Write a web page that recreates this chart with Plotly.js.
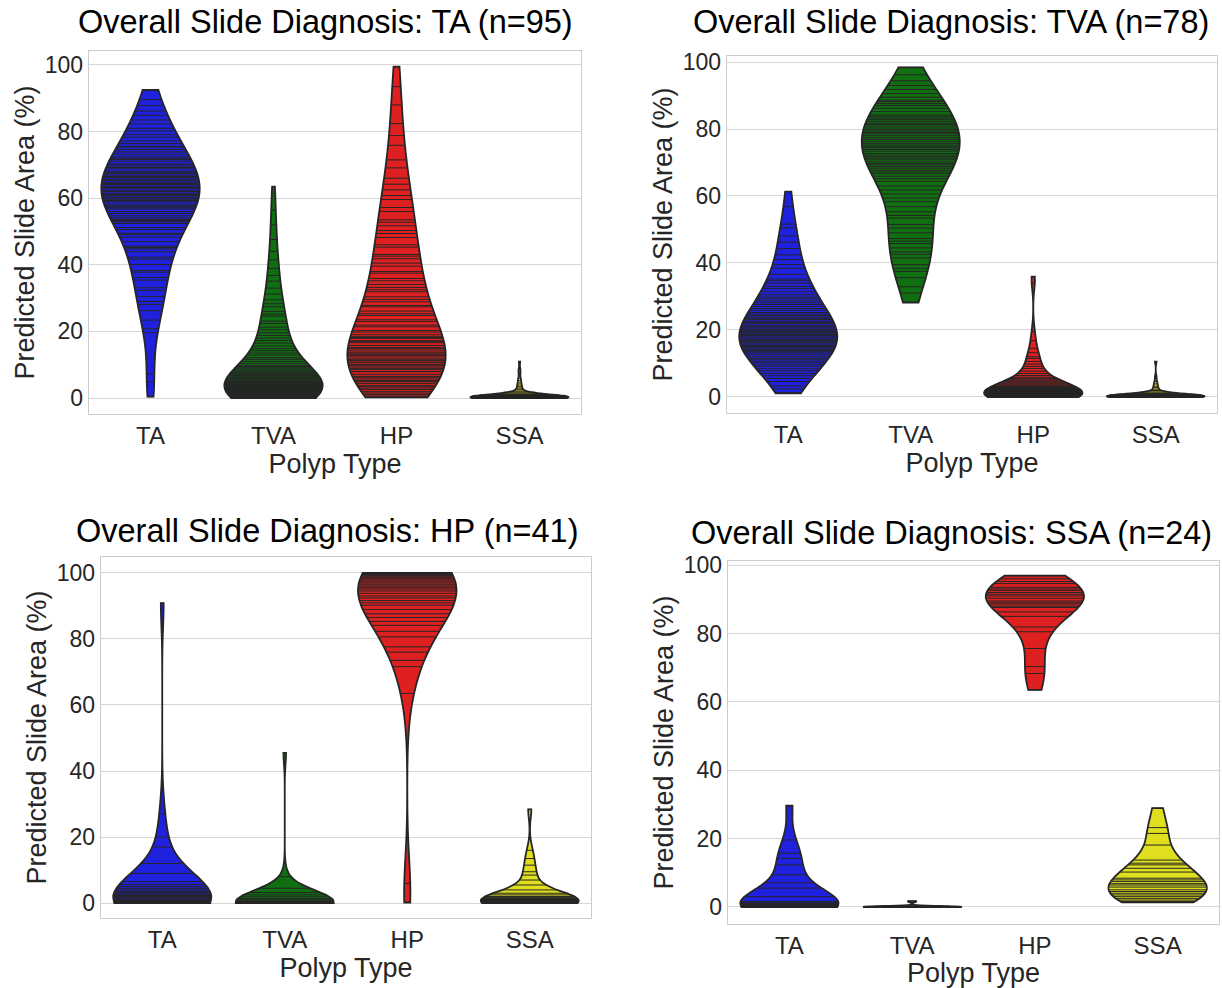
<!DOCTYPE html>
<html><head><meta charset="utf-8">
<script src="https://cdn.plot.ly/plotly-3.0.1.min.js"></script>
<style>html,body{margin:0;padding:0;background:#fff}#chart{width:1222px;height:988px}</style>
</head><body><div id="chart"></div>
<script>
// ---------- categories, colours, ticks ----------
const categories = ['TA', 'TVA', 'HP', 'SSA'];
const fillColors = ['#2020df', '#106f10', '#df2020', '#dfdf20'];
const yTickVals = [0, 20, 40, 60, 80, 100];
const panelTitles = [
  'Overall Slide Diagnosis: TA (n=95)',
  'Overall Slide Diagnosis: TVA (n=78)',
  'Overall Slide Diagnosis: HP (n=41)',
  'Overall Slide Diagnosis: SSA (n=24)'
];

// ---------- Panel 1: slides diagnosed TA (n=95) ----------
const dxTA_TA = [0.4, 4.9, 7.3, 19.6, 20.8, 23.4, 26.2, 28.1, 29.0, 30.5,
  32.3, 33.1, 35.4, 36.2, 37.8, 38.3, 40.1, 41.7, 42.3, 43.9,
  44.8, 45.2, 45.6, 47.0, 48.3, 49.1, 49.5, 50.6, 51.2, 52.4,
  52.9, 53.3, 53.6, 54.7, 55.4, 56.0, 56.8, 57.1, 57.4, 58.2,
  58.9, 59.3, 59.8, 60.2, 60.7, 61.1, 61.3, 61.9, 62.4, 63.0,
  63.2, 63.6, 64.1, 64.8, 65.3, 65.7, 66.2, 66.9, 67.4, 68.1,
  68.8, 69.2, 69.4, 70.0, 70.3, 71.1, 71.6, 72.4, 73.2, 73.9,
  74.6, 75.3, 75.6, 76.4, 77.2, 78.3, 79.1, 80.2, 81.0, 82.3,
  83.5, 84.9, 86.2, 87.8, 89.6, 92.5,
  54.1, 57.7, 59.5, 60.9, 62.0, 64.4, 66.5, 67.8, 72.0];
const dxTA_TVA = [0.0, 0.0, 0.1, 0.1, 0.2, 0.2, 0.3, 0.5, 0.5, 0.6, 0.8, 0.8, 0.9, 1.0, 1.1, 1.1, 1.3, 1.4, 1.4, 1.6, 1.7, 1.7, 1.8, 1.9, 1.9,
  2.0, 2.1, 2.3, 2.4, 2.5, 2.7, 2.8, 3.0, 3.1, 3.3, 3.4, 3.6, 3.8, 3.9, 4.1, 4.3, 4.4, 4.6, 4.8, 4.9,
  5.2, 5.5, 5.9, 6.1, 6.4, 6.8, 7.0, 7.3, 7.7, 8.0, 8.4, 8.7, 9.1, 9.5, 9.8,
  10.4, 11.0, 11.6, 12.1, 12.9, 13.5, 14.2, 14.8,
  15.6, 16.5, 17.3, 18.0, 18.8, 19.6,
  20.5, 21.3, 22.4, 23.1, 24.6, 25.2, 26.0, 27.4, 28.3, 29.5,
  31.2, 33.0, 35.1, 36.8, 38.9,
  41.5, 44.0, 47.6,
  52.0, 56.5, 63.5];
const dxTA_HP = [0.2, 0.6, 1.1, 1.5, 2.0, 2.6, 3.0, 3.4, 3.8, 4.4, 4.9,
  5.2, 5.4, 6.0, 6.3, 6.5, 7.1, 7.9, 8.0, 8.6, 8.9, 9.3, 9.8,
  10.1, 10.6, 10.8, 11.3, 11.5, 12.0, 12.6, 12.9, 13.0, 13.5, 13.8, 14.4, 14.9,
  15.2, 15.8, 16.6, 17.0, 17.2, 17.9, 18.2, 18.4, 19.0, 19.8,
  20.3, 21.4, 21.9, 23.0, 23.5, 24.8, 25.3, 26.1, 27.4, 27.8, 28.9, 29.6,
  30.4, 31.9, 32.5, 33.2, 34.1, 35.2, 35.9, 37.5, 38.0, 39.6,
  40.5, 41.8, 42.6, 43.1, 45.3, 46.0, 48.2, 49.4,
  50.3, 51.7, 52.8, 53.5, 56.0, 57.2, 59.6,
  60.8, 62.5, 64.2, 66.0, 69.1,
  71.5, 75.9, 78.8,
  82.4, 88.0,
  93.5, 99.5];
const dxTA_SSA = [0, 0, 0, 0, 0, 0, 0, 0, 0, 0, 0, 0, 0, 0, 0, 0, 0, 0, 0, 0, 0, 0, 0, 0, 0, 0, 0, 0, 0, 0,
  0.1, 0.1, 0.1, 0.1, 0.1, 0.1, 0.1, 0.1, 0.1, 0.1,
  0.2, 0.2, 0.2, 0.2, 0.2, 0.2, 0.2, 0.2,
  0.3, 0.3, 0.3, 0.3, 0.3, 0.3,
  0.4, 0.4, 0.4, 0.4, 0.4, 0.4,
  0.5, 0.5, 0.5, 0.5, 0.5,
  0.6, 0.6, 0.6, 0.6,
  0.7, 0.7, 0.7, 0.7,
  0.8, 0.8, 0.8,
  0.9, 0.9, 0.9,
  1.0, 1.0,
  1.2, 1.5, 1.8, 2.1, 2.6, 3.0, 3.4, 3.9, 4.5, 5.2, 6.0, 7.5, 8.6, 10.9];

// ---------- Panel 2: slides diagnosed TVA (n=78) ----------
const dxTVA_TA = [1.1, 2.4, 3.3, 4.6,
  5.5, 6.3, 7.0, 7.8, 8.4, 9.1, 9.6,
  10.2, 10.7, 11.3, 11.5, 12.0, 12.6, 13.1, 13.5, 13.9, 14.2, 14.6, 14.9,
  15.1, 15.4, 15.8, 16.2, 16.5, 16.9, 17.2, 17.6, 17.9, 18.3, 18.6, 18.8, 19.2, 19.5, 19.9,
  20.2, 20.6, 21.0, 21.4, 21.9, 22.3, 22.6, 23.1, 23.5, 23.8, 24.3, 24.7,
  25.2, 25.9, 26.4, 27.0, 27.6, 28.1, 28.7, 29.3, 29.8,
  30.5, 31.4, 32.4, 33.0, 33.9, 34.7,
  35.2, 36.6, 38.4, 39.5,
  41.0, 42.4, 44.3,
  46.2, 48.1,
  50.5, 51.6,
  56.8, 61.3];
const dxTVA_TVA = [28.2, 31.0, 32.9,
  35.6, 37.5, 38.4, 39.5,
  41.5, 42.6, 43.3, 44.5,
  45.8, 46.5, 47.3, 49.0,
  50.4, 51.5, 53.4, 54.2,
  55.3, 56.8, 58.3, 59.4,
  60.6, 61.8, 63.0, 64.4,
  65.2, 65.9, 66.7, 67.2, 67.7, 68.3, 68.8, 69.3, 69.7,
  70.2, 70.8, 71.3, 71.7, 72.2, 72.7, 73.4, 73.9, 74.4, 74.7,
  75.2, 75.7, 76.3, 76.9, 77.4, 78.0, 78.6, 79.0, 79.4, 79.8,
  80.3, 80.9, 81.4, 81.7, 82.3, 82.8, 83.3, 83.8, 84.2,
  85.2, 86.2, 87.0, 87.6, 88.2, 88.6, 89.5,
  90.6, 91.8, 93.0, 94.4,
  96.2, 98.4];
const dxTVA_HP = [0, 0, 0, 0, 0, 0, 0, 0, 0, 0, 0, 0,
  0.1, 0.1, 0.1, 0.1, 0.2, 0.2, 0.2, 0.3, 0.3, 0.3, 0.4, 0.4, 0.5, 0.5, 0.6, 0.6, 0.7, 0.7, 0.8, 0.8, 0.9, 0.9, 1.0,
  1.1, 1.2, 1.3, 1.4, 1.5, 1.6, 1.7, 1.8, 1.9, 2.0, 2.1, 2.2, 2.3, 2.4, 2.5, 2.6, 2.8, 2.9,
  3.1, 3.3, 3.6, 3.9, 4.2, 4.5, 4.8, 5.1, 5.5, 5.9,
  6.4, 7.0, 7.7, 8.5, 9.1, 9.8,
  10.6, 11.5, 12.0, 13.2, 14.5,
  16.8, 19.5,
  33.9, 35.9];
const dxTVA_SSA = [0, 0, 0, 0, 0, 0, 0, 0, 0, 0, 0, 0, 0, 0, 0, 0, 0, 0, 0, 0, 0, 0, 0, 0, 0, 0, 0, 0,
  0.1, 0.1, 0.1, 0.1, 0.1, 0.1, 0.1, 0.1,
  0.2, 0.2, 0.2, 0.2, 0.2, 0.2, 0.2,
  0.3, 0.3, 0.3, 0.3, 0.3, 0.3,
  0.4, 0.4, 0.4, 0.4, 0.4,
  0.5, 0.5, 0.5, 0.5,
  0.6, 0.6, 0.6,
  0.7, 0.7, 0.7,
  0.8, 0.8,
  0.9, 1.0,
  1.2, 1.5, 1.9, 2.3, 2.8, 3.2, 3.9, 4.6, 6.0, 10.5];

// ---------- Panel 3: slides diagnosed HP (n=41) ----------
const dxHP_TA = [0, 0, 0, 0, 0, 0, 0, 0, 0, 0, 0, 0, 0, 0, 0,
  0.2, 0.3, 0.5, 0.6, 0.8, 1.0, 1.2, 1.5, 1.8, 2.0, 2.3, 2.5, 2.8, 3.2, 3.6, 4.0, 4.5, 5.0, 5.6,
  6.5, 9.0, 12.0, 17.0,
  20.0, 27.0, 90.8];
const dxHP_TVA = [0, 0, 0, 0, 0, 0, 0, 0, 0, 0, 0, 0, 0, 0, 0, 0, 0, 0, 0, 0, 0, 0, 0, 0, 0, 0, 0, 0,
  0.1, 0.2, 0.3, 0.5, 0.7, 1.0, 1.4, 1.9, 2.5, 3.2, 4.5, 8.0, 45.5];
const dxHP_HP = [100, 100, 100, 100, 99.9, 99.8, 99.7, 99.5, 99.3, 99.1, 98.8, 98.5, 98.2, 97.8,
  97.3, 96.9, 96.4, 96.0, 95.5, 95.1,
  94.5, 93.8, 93.0, 92.4, 91.6, 90.9, 90.2,
  88.9, 87.6, 86.5, 85.3,
  84.1, 82.3, 80.6,
  77.6, 76.0,
  73.5, 71.6,
  63.5,
  6.0, 0.2];
const dxHP_SSA = [0, 0, 0, 0, 0, 0, 0, 0, 0, 0, 0, 0, 0, 0,
  0.1, 0.2, 0.3, 0.4, 0.5, 0.6, 0.7, 0.8, 0.9, 1.0, 1.1, 1.2, 1.4, 1.6, 1.8,
  2.0, 2.5, 3.0, 4.0, 5.5, 7.0, 8.5, 9.5, 11.5, 13.5, 16.0, 28.4];

// ---------- Panel 4: slides diagnosed SSA (n=24) ----------
const dxSSA_TA = [0, 0, 0, 0, 0, 0.1, 0.2, 0.3, 0.4, 0.5, 0.6, 0.8, 1.0, 1.2,
  1.6, 3.0, 5.5, 7.0, 9.4, 12.3, 14.2, 15.7, 19.6, 29.6];
const dxSSA_TVA = [0, 0, 0, 0, 0, 0, 0, 0, 0, 0, 0, 0, 0, 0, 0, 0, 0, 0, 0, 0,
  0.1, 0.2, 1.5, 1.7];
const dxSSA_HP = [96.9, 96.0, 95.2, 94.6, 93.5, 93.0, 92.6, 92.0, 91.5, 91.0, 90.3, 89.5,
  89.0, 88.6, 88.0, 87.6, 86.3, 85.0, 81.9, 80.5, 75.6, 70.3, 68.3, 63.5];
const dxSSA_SSA = [28.9, 23.2, 21.5, 18.1, 13.7, 12.8, 12.3, 11.3, 10.2, 8.4, 7.9, 7.4,
  6.8, 6.4, 5.8, 5.0, 4.5, 4.0, 3.5, 3.0, 2.5, 2.0, 1.6, 1.3];

// ---------- panel geometry (page pixels) ----------
const W = 1222, H = 988;
const panels = [
  {series: [dxTA_TA, dxTA_TVA, dxTA_HP, dxTA_SSA], px: [89, 581], py: [51, 414], yr: [-4.8, 104.2], tx: 325, ty: 22},
  {series: [dxTVA_TA, dxTVA_TVA, dxTVA_HP, dxTVA_SSA], px: [727, 1217], py: [56, 413], yr: [-4.8, 101.8], tx: 951, ty: 22},
  {series: [dxHP_TA, dxHP_TVA, dxHP_HP, dxHP_SSA], px: [101, 591], py: [557, 918], yr: [-4.5, 104.8], tx: 327, ty: 531},
  {series: [dxSSA_TA, dxSSA_TVA, dxSSA_HP, dxSSA_SSA], px: [728, 1219], py: [561, 924], yr: [-5.0, 101.2], tx: 951, ty: 533}
];

const VIOLIN_WIDTH = 0.8;
const FONT = 'Liberation Sans, Arial, Helvetica, sans-serif';
const TXT = '#262626';

function scottBandwidth(vals) {
  const n = vals.length;
  const mean = vals.reduce((a, b) => a + b, 0) / n;
  const v = vals.reduce((a, b) => a + (b - mean) * (b - mean), 0) / (n - 1);
  return Math.sqrt(v) * Math.pow(n, -0.2);
}
function makeKde(vals, bw) {
  const n = vals.length, f = 1 / (n * bw * Math.sqrt(2 * Math.PI));
  return function (x) {
    let s = 0;
    for (const v of vals) { const u = (x - v) / bw; s += Math.exp(-0.5 * u * u); }
    return f * s;
  };
}
function maxDensity(vals, bw, kde) {
  const lo = Math.min(...vals), hi = Math.max(...vals);
  const dist = hi - lo;
  const n = Math.max(1, Math.ceil(dist / (bw / 3)));
  const step = dist / n;
  let m = 0;
  for (let k = 0; k <= n; k++) m = Math.max(m, kde(lo + k * step));
  return m;
}

const traces = [];
const layout = {
  width: W, height: H,
  margin: {l: 0, r: 0, t: 0, b: 0},
  paper_bgcolor: '#ffffff', plot_bgcolor: '#ffffff',
  showlegend: false,
  violinmode: 'overlay',
  font: {family: FONT, color: TXT},
  annotations: []
};

panels.forEach((p, i) => {
  const sfx = i === 0 ? '' : String(i + 1);
  const xa = 'x' + sfx, ya = 'y' + sfx;
  p.series.forEach((vals, c) => {
    const bw = scottBandwidth(vals);
    traces.push({
      type: 'violin', x0: c, y: vals, xaxis: xa, yaxis: ya,
      width: VIOLIN_WIDTH, scalemode: 'width', spanmode: 'hard', bandwidth: bw,
      points: false, box: {visible: false}, meanline: {visible: false},
      fillcolor: fillColors[c], line: {color: TXT, width: 1.8},
      opacity: 1, hoverinfo: 'skip', name: categories[c]
    });
    // inner "stick" lines: one per observation, as wide as the violin at that value
    const kde = makeKde(vals, bw);
    const mx = maxDensity(vals, bw, kde);
    const sx = [], sy = [];
    vals.forEach(v => {
      const hw = (VIOLIN_WIDTH / 2) * kde(v) / mx;
      sx.push(c - hw, c + hw, null);
      sy.push(v, v, null);
    });
    traces.push({
      type: 'scatter', mode: 'lines', x: sx, y: sy, xaxis: xa, yaxis: ya,
      line: {color: TXT, width: 1}, hoverinfo: 'skip', showlegend: false
    });
  });
  const axisLine = {showline: true, mirror: true, linecolor: '#cccccc', linewidth: 1.25, zeroline: false};
  layout['xaxis' + sfx] = Object.assign({
    domain: [p.px[0] / W, p.px[1] / W], anchor: ya,
    range: [-0.5, 3.5], tickmode: 'array', tickvals: [0, 1, 2, 3], ticktext: categories,
    showgrid: false, ticks: '', tickfont: {size: 24, color: TXT, family: FONT},
    title: {text: 'Polyp Type', font: {size: 27, color: TXT, family: FONT}, standoff: 5},
    fixedrange: true
  }, axisLine);
  layout['yaxis' + sfx] = Object.assign({
    domain: [1 - p.py[1] / H, 1 - p.py[0] / H], anchor: xa,
    range: p.yr, tickmode: 'array', tickvals: yTickVals,
    showgrid: true, gridcolor: '#d6d6d6', gridwidth: 1, ticks: '',
    tickfont: {size: 23, color: TXT, family: FONT},
    title: {text: 'Predicted Slide Area (%)', font: {size: 27, color: TXT, family: FONT}, standoff: 2},
    fixedrange: true
  }, axisLine);
  layout.annotations.push({
    text: panelTitles[i], xref: 'paper', yref: 'paper',
    x: p.tx / W, y: 1 - p.ty / H, xanchor: 'center', yanchor: 'middle',
    showarrow: false, font: {size: 32.5, color: '#000000', family: FONT}
  });
});

Plotly.newPlot('chart', traces, layout, {staticPlot: true, displayModeBar: false});
</script>
</body></html>
